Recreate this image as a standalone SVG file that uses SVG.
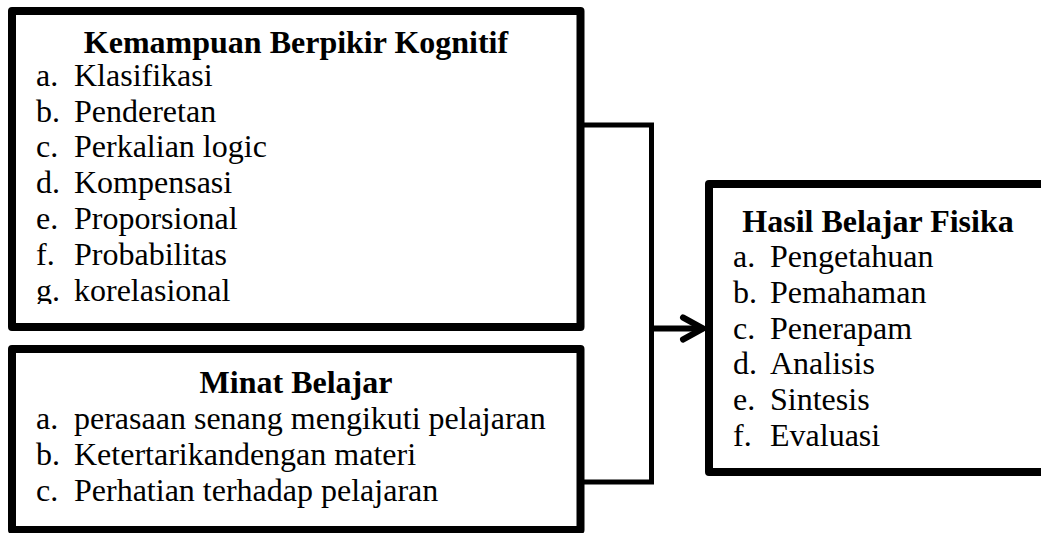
<svg xmlns="http://www.w3.org/2000/svg" width="1041" height="533" viewBox="0 0 1041 533">
<style>
.box{fill:#fff;stroke:#000;stroke-width:8;stroke-linejoin:round}
.t{font-family:"Liberation Serif","Times New Roman",serif;font-size:32px;fill:#000}
.h{font-weight:bold;text-anchor:middle}
.c{fill:none;stroke:#000;stroke-width:5}
.a{fill:none;stroke:#000;stroke-width:6;stroke-linecap:round;stroke-linejoin:round}
</style>
<defs>
<clipPath id="clip1"><rect x="16" y="15" width="560" height="289"/></clipPath>
</defs>
<rect width="1041" height="533" fill="#fff"/>
<g id="connectors">
<polyline class="c" points="584,125 651.5,125 651.5,482 584,482"/>
<line class="a" x1="654" y1="328.5" x2="702" y2="328.5"/>
<polyline class="a" points="683,317.5 703,328.5 683,339.5"/>
</g>
<g id="kemampuan">
<rect class="box" x="12" y="11" width="568.5" height="316"/>
<text class="t h" x="296" y="53">Kemampuan Berpikir Kognitif</text>
<g clip-path="url(#clip1)">
<text class="t" x="36" y="86">a.</text><text class="t" x="74" y="86">Klasifikasi</text>
<text class="t" x="36" y="121.5">b.</text><text class="t" x="74" y="121.5">Penderetan</text>
<text class="t" x="36" y="157">c.</text><text class="t" x="74" y="157">Perkalian logic</text>
<text class="t" x="36" y="193">d.</text><text class="t" x="74" y="193">Kompensasi</text>
<text class="t" x="36" y="229">e.</text><text class="t" x="74" y="229">Proporsional</text>
<text class="t" x="36" y="264.5">f.</text><text class="t" x="74" y="264.5">Probabilitas</text>
<text class="t" x="36" y="300.5">g.</text><text class="t" x="74" y="300.5">korelasional</text>
</g>
</g>
<g id="minat">
<rect class="box" x="12" y="349" width="568.5" height="181"/>
<text class="t h" x="296" y="393">Minat Belajar</text>
<text class="t" x="36" y="429">a.</text><text class="t" x="74" y="429">perasaan senang mengikuti pelajaran</text>
<text class="t" x="36" y="465">b.</text><text class="t" x="74" y="465">Ketertarikandengan materi</text>
<text class="t" x="36" y="501">c.</text><text class="t" x="74" y="501">Perhatian terhadap pelajaran</text>
</g>
<g id="hasil">
<rect class="box" x="709" y="184" width="345" height="288"/>
<text class="t h" x="878" y="232">Hasil Belajar Fisika</text>
<text class="t" x="733" y="267">a.</text><text class="t" x="770" y="267">Pengetahuan</text>
<text class="t" x="733" y="303">b.</text><text class="t" x="770" y="303">Pemahaman</text>
<text class="t" x="733" y="338.5">c.</text><text class="t" x="770" y="338.5">Penerapam</text>
<text class="t" x="733" y="374">d.</text><text class="t" x="770" y="374">Analisis</text>
<text class="t" x="733" y="410">e.</text><text class="t" x="770" y="410">Sintesis</text>
<text class="t" x="733" y="446">f.</text><text class="t" x="770" y="446">Evaluasi</text>
</g>
</svg>
